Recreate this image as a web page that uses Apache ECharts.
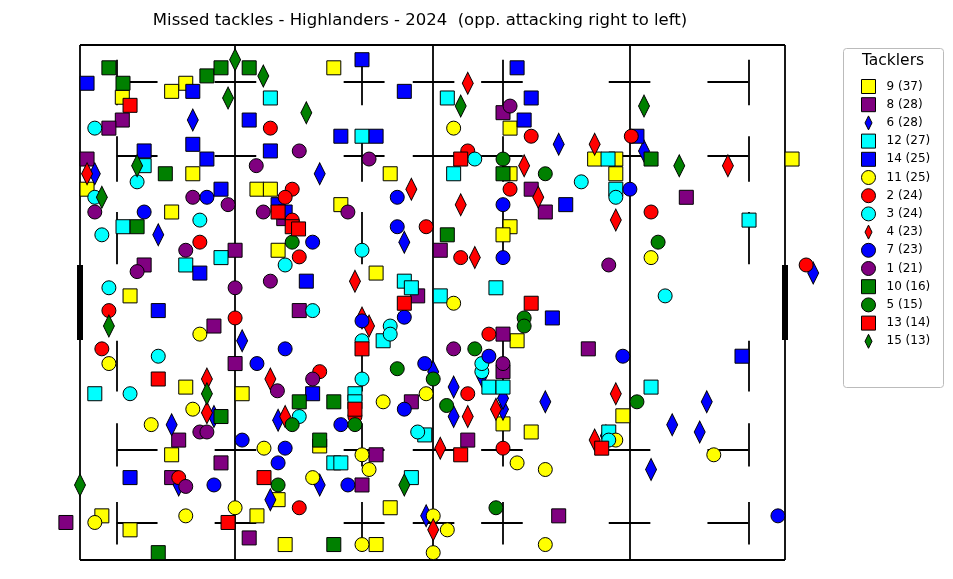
<!DOCTYPE html>
<html><head><meta charset="utf-8">
<script src="https://cdn.jsdelivr.net/npm/echarts@6/dist/echarts.min.js"></script>
<style>html,body{margin:0;padding:0;background:#fff}#c{width:953px;height:579px}</style>
</head><body><div id="c"></div>
<script>
// Positions in metres: x 0-100 along pitch, y 0-70 across (0 = top touchline)
const p9 = [[15.0,5.2],[13.0,6.3],[6.0,7.1],[36.0,3.1],[61.0,11.3],[16.0,17.5],[44.0,17.5],[37.0,21.7],[13.0,22.7],[25.1,19.6],[27.0,19.6],[73.0,15.5],[76.0,17.5],[61.0,17.5],[61.0,24.7],[60.0,25.8],[28.1,27.9],[42.0,31.0],[7.1,34.1],[62.0,40.2],[23.0,47.4],[15.0,46.5],[13.0,55.7],[34.0,54.5],[64.0,52.6],[60.0,51.5],[77.0,50.4],[44.0,62.9],[28.1,61.8],[25.1,64.0],[3.1,64.0],[7.1,65.9],[29.1,67.9],[42.0,67.9],[101.0,15.5],[1.0,19.6],[76.0,15.5]];
const p8 = [[6.0,10.2],[4.1,11.3],[1.0,15.5],[9.1,29.9],[19.0,38.2],[22.0,27.9],[28.9,23.6],[31.1,36.1],[22.0,43.3],[14.0,53.7],[20.0,56.8],[13.0,58.8],[-2.0,64.9],[24.0,67.0],[40.0,59.8],[42.0,55.7],[47.9,34.1],[51.1,27.9],[60.0,9.2],[64.0,19.6],[66.0,22.7],[86.0,20.7],[60.0,39.3],[60.0,44.4],[47.0,48.5],[55.0,53.7],[67.9,64.0],[72.1,41.3]];
const p6 = [[2.1,17.5],[16.0,10.2],[11.1,25.8],[34.0,17.5],[23.0,40.2],[13.0,51.6],[19.0,50.5],[14.0,59.8],[27.0,61.8],[34.0,59.8],[46.0,26.8],[50.1,44.4],[53.0,46.5],[53.0,50.5],[60.0,49.5],[66.0,48.5],[49.1,64.0],[67.9,13.5],[80.0,14.4],[84.0,51.6],[87.9,52.6],[88.9,48.5],[81.0,57.7],[104.0,31.0],[74.6,53.1],[28.1,51.0],[57.0,45.0],[60.0,48.0]];
const p12 = [[27.0,7.2],[9.1,16.4],[6.1,24.7],[15.0,29.9],[20.0,28.9],[2.1,47.4],[40.0,12.4],[52.1,7.2],[53.0,17.5],[74.9,15.5],[76.0,19.6],[94.9,23.8],[46.0,32.1],[47.0,33.0],[51.1,34.1],[59.0,33.0],[43.0,40.2],[58.0,46.5],[60.0,46.5],[39.0,47.4],[36.0,56.8],[37.0,56.8],[47.0,58.8],[81.0,46.5],[75.0,52.6],[39.0,48.5],[48.9,53.0]];
const p14 = [[1.0,5.2],[16.0,6.3],[40.0,2.0],[24.0,10.2],[9.1,14.4],[16.0,13.5],[18.0,15.5],[27.0,14.4],[20.0,19.6],[28.1,21.7],[29.1,22.7],[17.0,31.0],[11.1,36.1],[32.1,32.1],[37.0,12.4],[42.0,12.4],[46.0,6.3],[62.0,3.1],[64.0,7.2],[63.0,10.2],[68.9,21.7],[79.0,12.4],[67.0,37.1],[93.9,42.3],[7.1,58.8],[33.0,47.4]];
const p11 = [[53.0,11.3],[81.0,28.9],[53.0,35.1],[17.0,39.3],[4.1,43.3],[16.0,49.5],[10.1,51.6],[26.1,54.8],[40.0,55.7],[41.0,57.7],[33.0,58.8],[43.0,48.5],[49.1,47.4],[62.0,56.8],[66.0,57.7],[76.0,53.7],[89.9,55.7],[50.1,64.0],[52.1,65.9],[50.1,69.0],[66.0,67.9],[40.0,67.9],[22.0,62.9],[15.0,64.0],[2.1,64.9]];
const p2 = [[27.0,11.3],[30.1,19.6],[29.1,20.7],[30.1,23.8],[17.0,26.8],[31.1,28.8],[4.1,36.1],[3.1,41.3],[22.0,37.1],[34.0,44.4],[39.0,50.5],[14.0,58.8],[31.1,62.9],[49.1,24.7],[54.0,28.9],[55.0,14.4],[64.0,12.4],[61.0,19.6],[78.2,12.4],[81.0,22.7],[58.0,39.3],[55.0,47.4],[60.0,54.8],[103.0,29.9]];
const p3 = [[2.1,11.3],[8.1,18.6],[2.1,20.7],[3.1,25.8],[17.0,23.8],[4.1,33.0],[11.1,42.3],[7.1,47.4],[29.1,29.9],[40.0,27.9],[33.0,36.1],[44.0,38.2],[44.0,39.3],[40.0,40.2],[40.0,45.4],[31.1,50.5],[47.9,52.6],[57.0,44.4],[56.0,15.5],[71.1,18.6],[76.0,20.7],[83.0,34.1],[75.0,53.7],[57.0,43.3]];
const p4 = [[1.0,17.5],[18.0,45.4],[27.0,45.4],[29.1,50.5],[39.0,32.1],[40.0,37.1],[41.0,38.2],[47.0,19.6],[54.0,21.7],[56.0,28.9],[55.0,5.2],[63.0,16.4],[65.0,20.7],[73.0,13.5],[76.0,23.8],[91.9,16.4],[55.0,50.5],[59.0,49.5],[51.1,54.8],[50.1,65.9],[76.0,47.4],[73.0,53.7],[18.0,50.0]];
const p7 = [[9.1,22.7],[18.0,20.7],[33.0,26.8],[25.1,43.3],[29.1,41.3],[37.0,51.6],[23.0,53.7],[29.1,54.8],[28.1,56.8],[19.0,59.8],[38.0,59.8],[45.0,20.7],[45.0,24.7],[60.0,21.7],[60.0,28.9],[48.9,43.3],[58.0,42.3],[46.0,49.5],[78.0,19.6],[77.0,42.3],[99.0,64.0],[46.0,37.0],[40.0,37.5]];
const p1 = [[2.1,22.7],[15.0,27.9],[8.1,30.8],[16.0,20.7],[21.0,21.7],[26.0,22.7],[25.0,16.4],[31.1,14.4],[38.0,22.7],[41.0,15.5],[22.0,33.0],[27.0,32.1],[33.0,45.4],[17.0,52.6],[18.0,52.6],[53.0,41.3],[60.0,43.3],[61.0,8.3],[75.0,29.9],[15.0,60.0],[28.0,47.0]];
const p10 = [[4.1,3.1],[6.1,5.2],[18.0,4.2],[20.0,3.1],[24.0,3.1],[12.1,17.5],[8.1,24.7],[20.0,50.5],[31.1,48.5],[36.0,48.5],[34.0,53.7],[36.0,67.9],[11.1,69.0],[52.1,25.8],[60.0,17.5],[81.0,15.5]];
const p5 = [[30.1,26.8],[30.1,51.6],[39.0,51.6],[28.1,59.8],[50.1,45.4],[56.0,41.3],[63.0,37.1],[63.0,38.2],[60.0,15.5],[66.0,17.5],[82.0,26.8],[79.0,48.5],[59.0,62.9],[52.0,49.0],[45.0,44.0]];
const p13 = [[7.1,8.2],[28.1,22.7],[30.1,24.7],[11.1,45.4],[26.1,58.8],[21.0,64.9],[40.0,41.3],[39.0,49.5],[46.0,35.1],[54.0,15.5],[64.0,35.1],[54.0,55.7],[74.0,54.8],[31.0,25.0]];
const p15 = [[22.0,2.0],[26.0,4.2],[21.0,7.2],[32.1,9.2],[8.1,16.4],[3.1,20.7],[4.1,38.2],[18.0,47.4],[0,59.8],[46.0,59.8],[54.0,8.3],[80.0,8.3],[85.0,16.4]];
const legendNames = ['9 (37)','8 (28)','6 (28)','12 (27)','14 (25)','11 (25)','2 (24)','3 (24)','4 (23)','7 (23)','1 (21)','10 (16)','5 (15)','13 (14)','15 (13)'];
const seriesData = [p9,p8,p6,p12,p14,p11,p2,p3,p4,p7,p1,p10,p5,p13,p15];
const colors = ['#ffff00','#800080','#0000ff','#00ffff','#0000ff','#ffff00','#ff0000','#00ffff','#ff0000','#0000ff','#800080','#008000','#008000','#ff0000','#008000'];
const shapes = ['rect','rect','diamond','rect','rect','circle','circle','circle','diamond','circle','circle','rect','circle','rect','diamond'];
const legendIcons = shapes.map(s=>s==='diamond'?'path://M5,0L10,10L5,20L0,10Z':s);

// pitch markings
const outline = [[[0,0],[100,0]],[[0,70],[100,70]],[[0,0],[0,70]],[[22,0],[22,70]],[[50,0],[50,70]],[[78,0],[78,70]],[[100,0],[100,70]]];
const hDashX = [[5.2,11],[19.1,25],[37.4,43.2],[47.2,53.1],[56.9,62.8],[75,80.9],[89,94.8]];
const hDashY = [5,15,55,65];
const vDashX = [5.2,40,60,94.8];
const vDashY = [[2,8.2],[12.4,18.6],[22.7,29.8],[40.2,47.1],[51.4,57.3],[62.1,67.9]];
const posts = [[[0,29.9],[0,40.1]],[[100,29.9],[100,40.1]]];

const segs = outline.slice();
hDashY.forEach(y=>hDashX.forEach(r=>segs.push([[r[0],y],[r[1],y]])));
vDashX.forEach(x=>vDashY.forEach(r=>segs.push([[x,r[0]],[x,r[1]]])));

const series = [
 {type:'lines',coordinateSystem:'cartesian2d',silent:true,z:1,lineStyle:{color:'#000',width:1.8,opacity:1},data:segs.map(s=>({coords:s}))},
 {type:'lines',coordinateSystem:'cartesian2d',silent:true,z:1,lineStyle:{color:'#000',width:6,opacity:1},data:posts.map(s=>({coords:s}))}
];
seriesData.forEach((d,i)=>{
  series.push({type:'scatter',name:legendNames[i],data:d,clip:false,z:2+i,
    symbol:shapes[i],symbolSize:shapes[i]==='diamond'?[11,22]:14,
    itemStyle:{color:colors[i],borderColor:'#000',borderWidth:1,opacity:1}});
});

const chart = echarts.init(document.getElementById('c'));
chart.setOption({
  animation:false,
  title:{text:'Missed tackles - Highlanders - 2024  (opp. attacking right to left)',left:415,top:7,textAlign:'center',
    textStyle:{fontFamily:'DejaVu Sans',fontSize:16.5,fontWeight:'normal',color:'#000'}},
  grid:{left:80,right:168,top:45,bottom:19},
  xAxis:{type:'value',min:0,max:100,show:false},
  yAxis:{type:'value',min:0,max:70,inverse:true,show:false},
  legend:{orient:'vertical',left:856,top:74,itemGap:3.2,itemWidth:14,itemHeight:14,
    data:legendNames.map((n,i)=>({name:n,icon:legendIcons[i],itemStyle:{color:colors[i],borderColor:'#000',borderWidth:1}})),
    textStyle:{fontFamily:'DejaVu Sans',fontSize:12,color:'#000',padding:[0,0,0,6]}},
  graphic:[
    {type:'rect',shape:{x:843.5,y:48.5,width:100,height:339,r:3},style:{fill:'#fff',stroke:'#bbb',lineWidth:1},z:-1},
    {type:'text',x:893,y:53,style:{text:'Tacklers',textAlign:'center',font:'15.5px DejaVu Sans',fill:'#000'}}
  ],
  series:series
});
</script></body></html>
